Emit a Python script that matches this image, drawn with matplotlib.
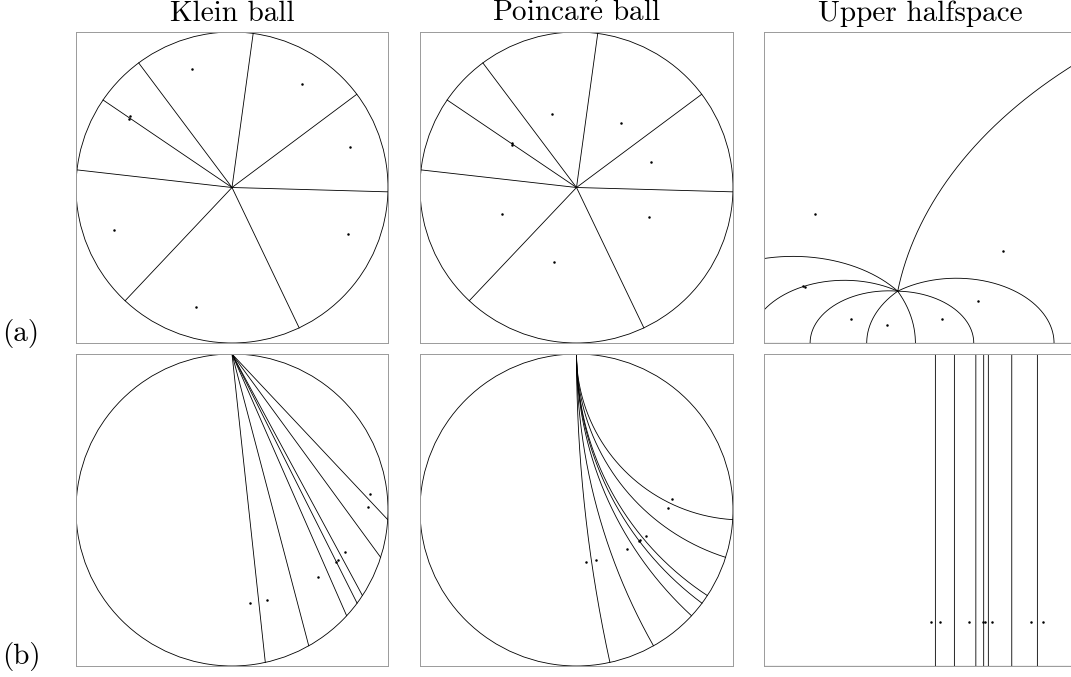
import numpy as np
import matplotlib.pyplot as plt
from matplotlib.patches import Circle

plt.rcParams['font.family'] = ['cmr10', 'DejaVu Serif']
plt.rcParams['mathtext.fontset'] = 'cm'

# (a) sites in the Klein ball, cells are cones on the origin
klein_a_x = [-0.255, 0.451, 0.759, 0.744, -0.232, -0.755, -0.663, -0.656]
klein_a_y = [0.759, 0.664, 0.262, -0.300, -0.766, -0.274, 0.443, 0.460]
ray_angles_deg = [82.2, 36.85, -1.6, -64.5, -133.25, 173.5, 145.75, 126.75]

# (b) sites on a horocycle, written in upper halfspace coordinates
half_b_x = [0.071, 0.144, 0.385, 0.497, 0.513, 0.570, 0.888, 0.989]
half_b_height = 0.5
bisector_b_x = [0.108, 0.263, 0.438, 0.502, 0.540, 0.731, 0.940]

titles = ['Klein ball', r'Poincar$\acute{\mathrm{e}}$ ball', 'Upper halfspace']
row_labels = ['(a)', '(b)']


# model changes (complex numbers)
def klein_to_poincare(k):
    return k / (1 + np.sqrt(1 - np.abs(k) ** 2))


def poincare_to_klein(p):
    return 2 * p / (1 + np.abs(p) ** 2)


def poincare_to_half(p):
    return 1j * (1j + p) / (1j - p)


def half_to_poincare(w):
    return (1 + 1j * w) / (w + 1j)


W, H = 1071, 677
fig = plt.figure(figsize=(W / 100, H / 100), dpi=100)


def make_axes(left, top, width, height):
    ax = fig.add_axes([left / W, 1 - (top + height) / H, width / W, height / H])
    ax.set_xticks([])
    ax.set_yticks([])
    for s in ax.spines.values():
        s.set_color('#9a9a9a')
        s.set_linewidth(0.7)
    return ax


lefts = [76, 420, 764]
widths = [312, 313, 312]
tops = [32, 354]
heights = [311, 312]
axes = [[make_axes(lefts[c], tops[r], widths[c], heights[r]) for c in range(3)] for r in range(2)]

line_kw = dict(color='black', lw=0.6)
dot_kw = dict(ls='none', marker='o', ms=1.8, color='black', mec='none')

# ---- row (a) ----
t = np.linspace(0, 1, 4000)
sites_k = np.array(klein_a_x) + 1j * np.array(klein_a_y)
sites_p = klein_to_poincare(sites_k)
sites_h = poincare_to_half(sites_p)
for ang in np.radians(ray_angles_deg):
    ray_p = t * np.exp(1j * ang)
    for ax, pts in zip(axes[0], [poincare_to_klein(ray_p), ray_p, poincare_to_half(ray_p)]):
        ax.plot(pts.real, pts.imag, **line_kw)
for ax, pts in zip(axes[0], [sites_k, sites_p, sites_h]):
    ax.plot(pts.real, pts.imag, **dot_kw)

# ---- row (b) ----
ys = np.geomspace(1e-7, 1e7, 6000)
sites_h = np.array(half_b_x) + 1j * half_b_height
sites_p = half_to_poincare(sites_h)
sites_k = poincare_to_klein(sites_p)
for b in bisector_b_x:
    geo_h = b + 1j * ys
    geo_p = half_to_poincare(geo_h)
    for ax, pts in zip(axes[1], [poincare_to_klein(geo_p), geo_p, geo_h]):
        ax.plot(pts.real, pts.imag, **line_kw)
for ax, pts in zip(axes[1], [sites_k, sites_p, sites_h]):
    ax.plot(pts.real, pts.imag, **dot_kw)

# boundaries and limits
for r in range(2):
    for ax in axes[r][:2]:
        ax.add_patch(Circle((0, 0), 1, fill=False, **line_kw))
        ax.set_xlim(-1, 1)
        ax.set_ylim(-1, 1)
    axes[r][2].axhline(0, color='black', lw=0.8)

axes[0][2].set_xlim(-1.71, 2.28)
axes[0][2].set_ylim(0, 6)
axes[1][2].set_xlim(-1.29, 1.255)
axes[1][2].set_ylim(0, 3.52)

for c in range(3):
    fig.text((lefts[c] + widths[c] / 2) / W, 1 - 21 / H, titles[c],
             ha='center', va='baseline', fontsize=21)
for r in range(2):
    fig.text(2 / W, 1 - (tops[r] + heights[r] - 2) / H, row_labels[r],
             ha='left', va='baseline', fontsize=21)

fig.savefig('out.png', dpi=100)
